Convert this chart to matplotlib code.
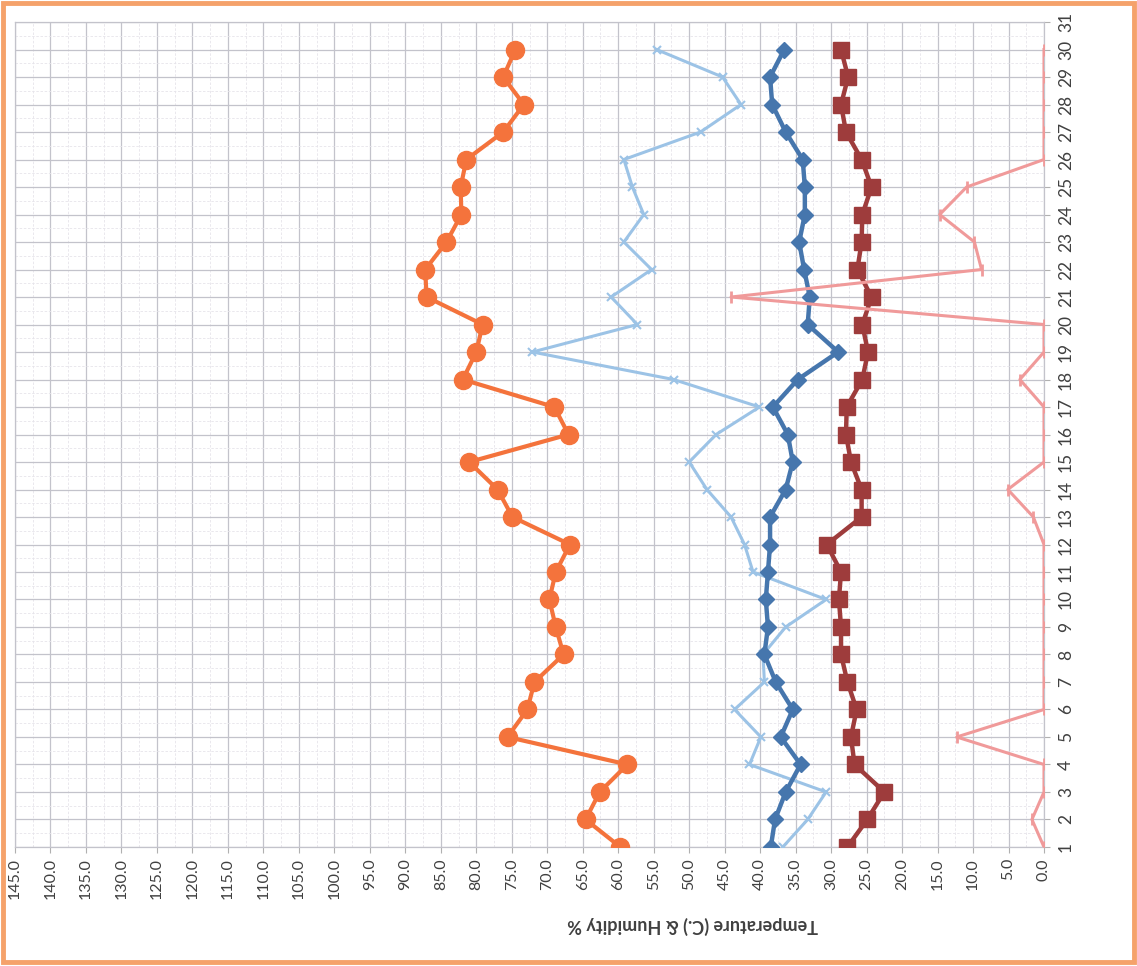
import matplotlib
matplotlib.use("Agg")
import matplotlib.pyplot as plt
from matplotlib.ticker import FixedLocator, MultipleLocator
from matplotlib.patches import Rectangle

# ---------------- data ----------------
days = list(range(1, 31))
day_ticks = list(range(1, 32))

humidity_orange = [59.7, 64.6, 62.6, 58.7, 75.6, 72.8, 71.8, 67.7, 68.8, 69.7,
                   68.8, 66.8, 74.9, 77.0, 81.0, 67.0, 69.0, 81.9, 80.0, 79.1,
                   87.0, 87.2, 84.2, 82.1, 82.2, 81.4, 76.2, 73.3, 76.2, 74.5]

series_lightblue = [36.8, 33.3, 30.7, 41.5, 39.9, 43.6, 39.4, 39.6, 36.4, 30.7,
                    41.0, 42.2, 44.1, 47.5, 50.0, 46.2, 40.1, 52.2, 72.1, 57.3,
                    61.0, 55.3, 59.2, 56.4, 58.0, 59.2, 48.4, 42.7, 45.3, 54.6]

temp_darkblue = [38.5, 37.9, 36.4, 34.3, 37.1, 35.4, 37.8, 39.4, 38.9, 39.2,
                 38.9, 38.6, 38.6, 36.4, 35.4, 36.1, 38.2, 34.7, 29.0, 33.3,
                 33.0, 33.8, 34.5, 33.7, 33.7, 34.0, 36.4, 38.3, 38.6, 36.6]

temp_darkred = [27.7, 24.9, 22.5, 26.7, 27.2, 26.4, 27.7, 28.6, 28.6, 28.9,
                28.6, 30.6, 25.7, 25.7, 27.2, 27.9, 27.8, 25.6, 24.8, 25.6,
                24.3, 26.3, 25.7, 25.6, 24.3, 25.7, 27.9, 28.6, 27.6, 28.6]

series_pink = [0.0, 1.7, 0.0, 0.0, 12.3, 0.0, 0.0, 0.0, 0.0, 0.0,
               0.0, 0.0, 1.5, 5.1, 0.0, 0.0, 0.0, 3.4, 0.0, 0.0,
               44.1, 8.8, 9.8, 14.7, 10.9, 0.0, 0.0, 0.0, 0.0, 0.0]

value_ticks = [v * 5 for v in range(0, 30)]
value_labels = [f"{v:.1f}" for v in value_ticks]
axis_title = "Temperature (C.) & Humidity %"

# ---------------- figure ----------------
plt.rcParams['font.family'] = ['Lato', 'DejaVu Sans']

fig = plt.figure(figsize=(11.37, 9.66), dpi=100)
fig.patch.set_facecolor('white')
ax = fig.add_axes([0.0132, 0.1232, 0.9050, 0.8540])
ax.set_facecolor('white')

# chart is shown rotated: values run horizontally (145 at left, 0 at right),
# days run vertically (1 at bottom, 31 at top)
ax.set_xlim(145, 0)
ax.set_ylim(1, 31)

ax.xaxis.set_major_locator(FixedLocator(value_ticks))
ax.xaxis.set_minor_locator(MultipleLocator(2.5))
ax.set_xticklabels(value_labels, rotation=90, fontsize=11.5, color='#404040')
ax.yaxis.tick_right()
ax.yaxis.set_major_locator(FixedLocator(day_ticks))
ax.yaxis.set_minor_locator(MultipleLocator(0.5))
ax.set_yticklabels([str(d) for d in day_ticks], rotation=90, fontsize=12.5,
                   color='#404040', va='center')

ax.grid(which='major', color='#c3c3cb', linewidth=0.9)
ax.grid(which='minor', color='#e6e4ea', linewidth=0.6, linestyle=(0, (3, 2)))
ax.set_axisbelow(True)
ax.tick_params(axis='x', which='major', length=4, color='#b0b0b0', pad=4)
ax.tick_params(axis='y', which='major', length=4, color='#b0b0b0', pad=6)
ax.tick_params(which='minor', length=0)
for s in ax.spines.values():
    s.set_color('#c3c3cb')
    s.set_linewidth(0.9)

# ---------------- series ----------------
ax.plot(series_lightblue, days, color='#9cc3e6', linewidth=2.2,
        marker='x', markersize=6, markeredgewidth=1.5, zorder=3)
ax.plot(temp_darkblue, days, color='#4676ad', linewidth=3.2,
        marker='D', markersize=8, zorder=4)
ax.plot(temp_darkred, days, color='#9e3c3c', linewidth=3.2,
        marker='s', markersize=12, zorder=4)
ax.plot(humidity_orange, days, color='#f4733c', linewidth=3.0,
        marker='o', markersize=13, zorder=4)
ax.plot(series_pink, days, color='#f09a9a', linewidth=2.2,
        marker='|', markersize=9, markeredgewidth=2, zorder=5)

# axis title (upside down, as in the rotated reference)
fig.text(693 / 1137, 1 - 925 / 966, axis_title, rotation=180,
         ha='center', va='center', fontsize=13, fontweight='bold',
         color='#404040')

# orange frame around the whole chart
fig.patches.append(Rectangle((0.003, 0.004), 0.994, 0.993,
                             transform=fig.transFigure, fill=False,
                             edgecolor='#f5a26b', linewidth=3.5))

fig.savefig('out.png', dpi=100)
